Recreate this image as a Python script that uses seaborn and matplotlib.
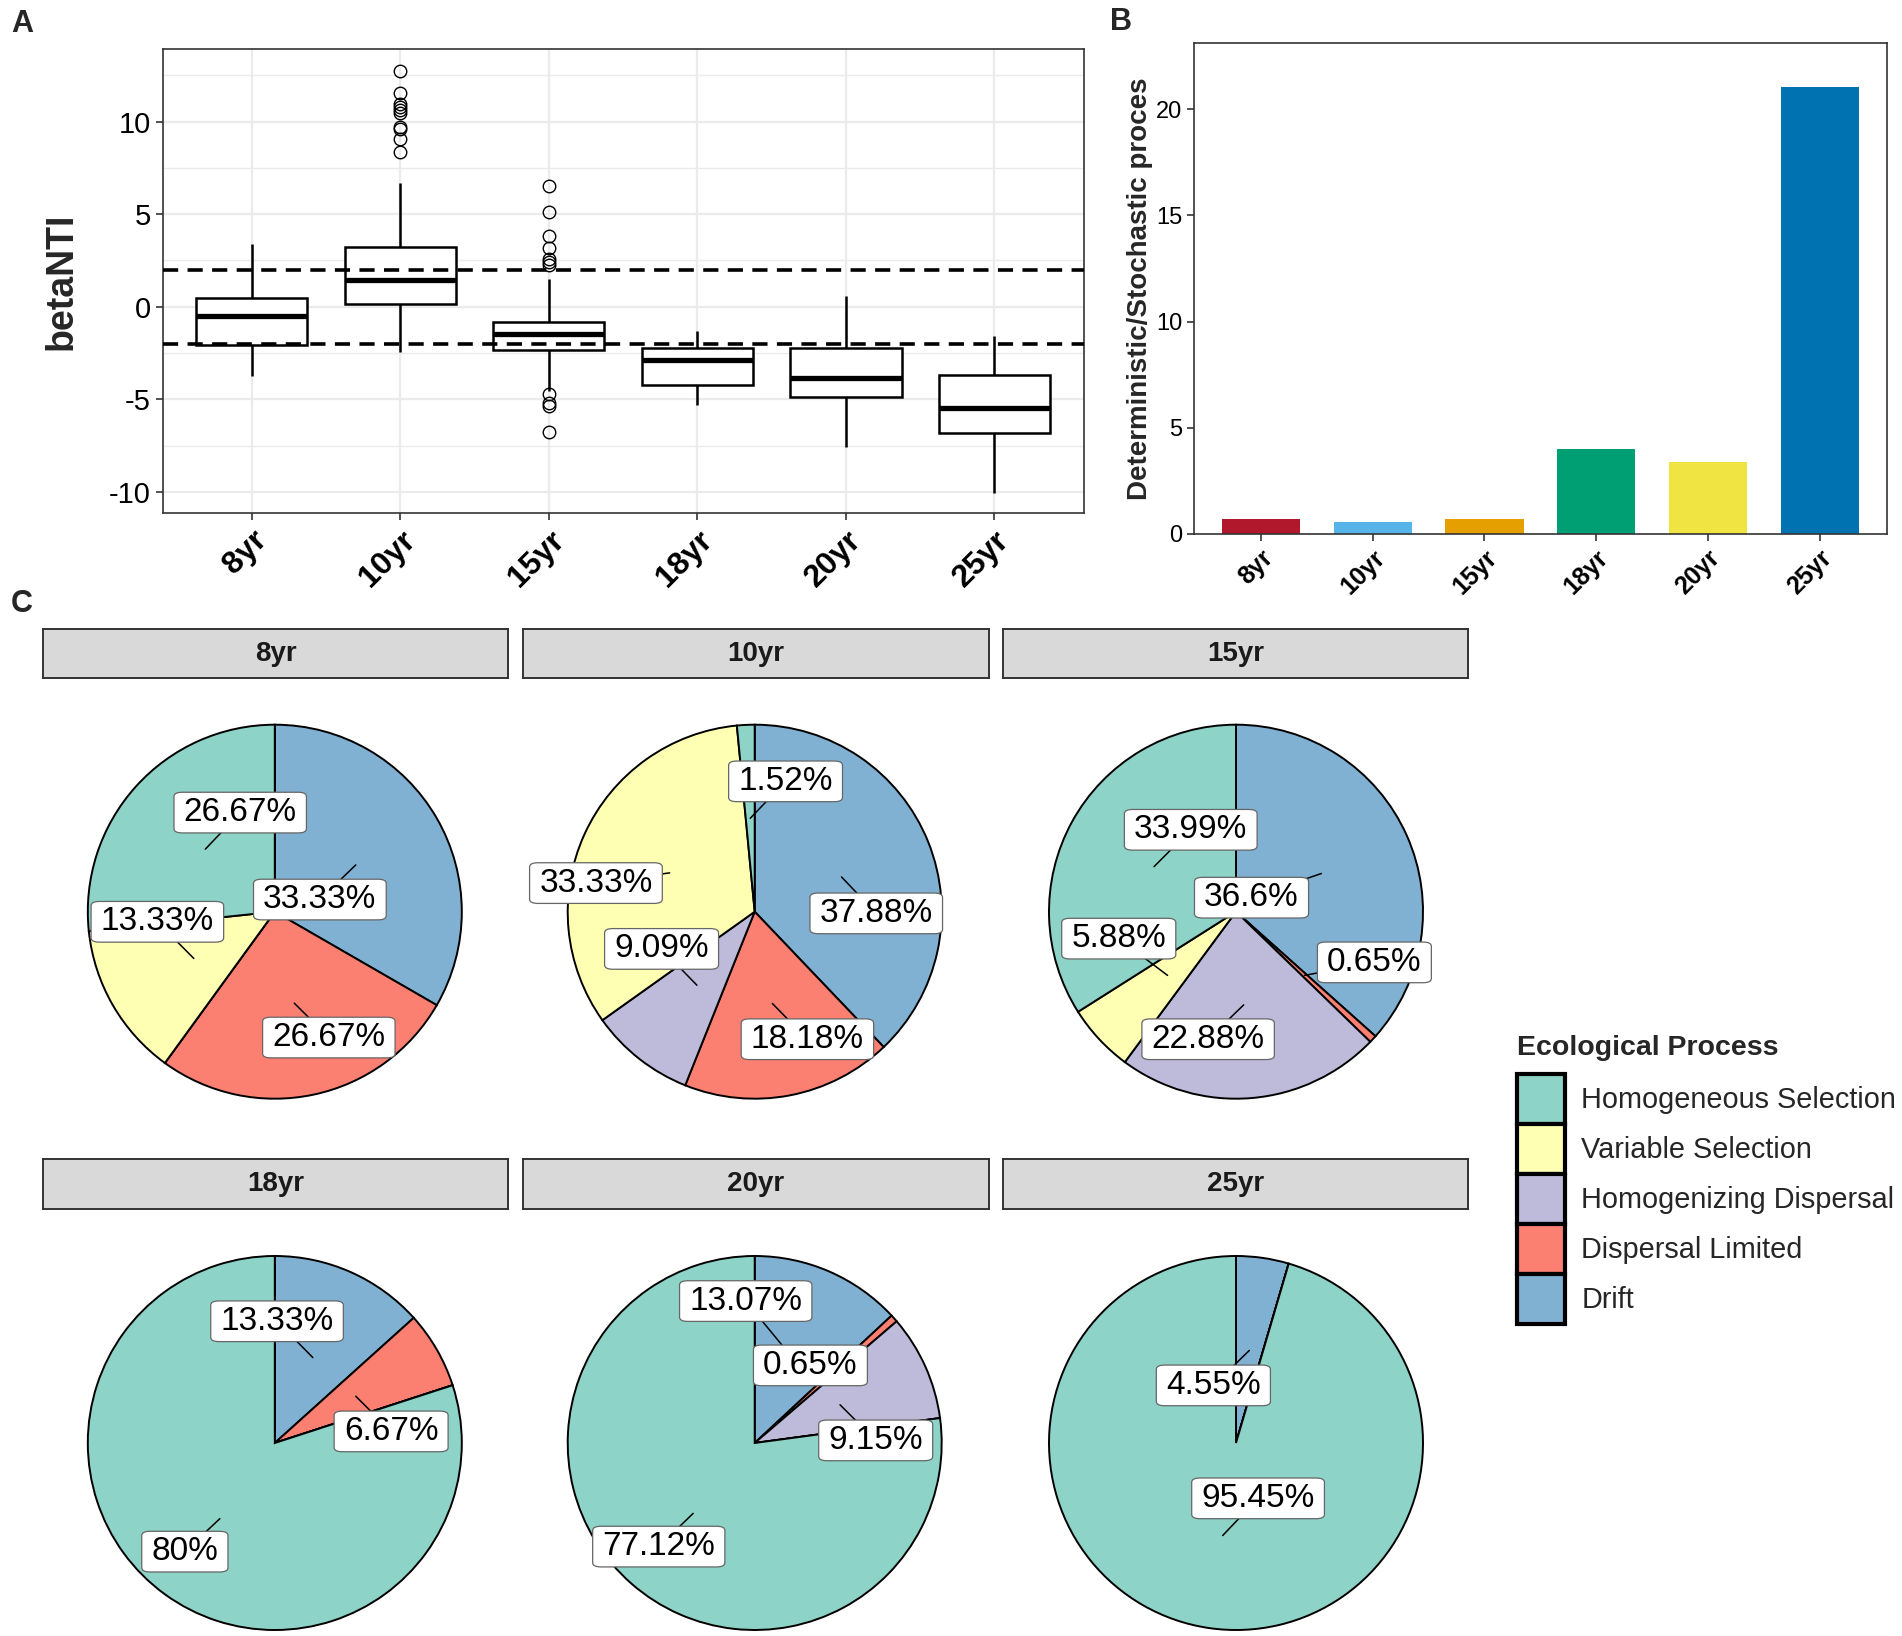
import numpy as np
import pandas as pd
import matplotlib
matplotlib.use("Agg")
import matplotlib.pyplot as plt
from matplotlib.patches import Patch
import seaborn as sns

# ---------------- data ----------------
years = ["8yr", "10yr", "15yr", "18yr", "20yr", "25yr"]

# Panel A: betaNTI box summaries
box_q1 = [-2.05, 0.13, -2.36, -4.23, -4.88, -6.83]
box_median = [-0.50, 1.44, -1.47, -2.90, -3.87, -5.46]
box_q3 = [0.46, 3.25, -0.81, -2.25, -2.22, -3.69]
whisker_low = [-3.72, -2.45, -4.55, -5.30, -7.60, -10.07]
whisker_high = [3.38, 6.70, 1.47, -1.33, 0.56, -1.57]
outliers_high = [[], [12.73, 11.56, 10.94, 10.76, 10.61, 10.47, 9.72, 9.62, 9.03, 8.36],
                 [6.53, 5.13, 3.81, 3.15, 2.55, 2.39, 2.25], [], [], []]
outliers_low = [[], [], [-4.73, -5.21, -5.36, -6.74], [], [], []]
threshold_lines = [2, -2]

# Panel B: deterministic / stochastic ratio
ratio_vals = [0.68, 0.54, 0.68, 4.00, 3.37, 21.03]
bar_colors = ["#B2182B", "#56B4E9", "#E69F00", "#009E73", "#F0E442", "#0072B2"]

# Panel C: ecological process percentages
processes = ["Homogeneous Selection", "Variable Selection", "Homogenizing Dispersal",
             "Dispersal Limited", "Drift"]
process_colors = ["#8DD3C7", "#FFFFB3", "#BEBADA", "#FB8072", "#80B1D3"]
pct_8yr = [26.67, 13.33, 0, 26.67, 33.33]
pct_10yr = [1.52, 33.33, 9.09, 18.18, 37.88]
pct_15yr = [33.99, 5.88, 22.88, 0.65, 36.6]
pct_18yr = [80, 0, 0, 6.67, 13.33]
pct_20yr = [77.12, 0, 9.15, 0.65, 13.07]
pct_25yr = [95.45, 0, 0, 0, 4.55]
pct_all = [pct_8yr, pct_10yr, pct_15yr, pct_18yr, pct_20yr, pct_25yr]

# repelled label placement (layout, in pie-radius units relative to pie centre)
label_layout = {
    "8yr": [(-0.185, 0.530), (-0.628, -0.054), None, (0.289, -0.673), (0.241, 0.065)],
    "10yr": [(0.165, 0.697), (-0.849, 0.153), (-0.498, -0.199), (0.282, -0.682), (0.650, -0.009)],
    "15yr": [(-0.242, 0.438), (-0.627, -0.144), (-0.149, -0.682), (0.740, -0.271), (0.083, 0.075)],
    "18yr": [(-0.481, -0.581), None, None, (0.622, 0.062), (0.012, 0.651)],
    "20yr": [(-0.513, -0.554), None, (0.647, 0.014), (0.298, 0.415), (-0.048, 0.759)],
    "25yr": [(0.118, -0.296), None, None, None, (-0.121, 0.308)],
}

# ---------------- style ----------------
sns.set_theme(style="ticks")
plt.rcParams["font.family"] = ["Liberation Sans", "DejaVu Sans"]
plt.rcParams["axes.unicode_minus"] = False

W, H = 1902, 1636
fig = plt.figure(figsize=(W / 100, H / 100), dpi=100)
fig.patch.set_facecolor("white")


def px_axes(x0, y0, x1, y1):
    return fig.add_axes([x0 / W, 1 - y1 / H, (x1 - x0) / W, (y1 - y0) / H])


def box_sample(lo, q1, med, q3, hi, out_lo, out_hi):
    """Values whose quartiles / whiskers / outliers equal the read summary."""
    below = sorted(out_lo) + [lo]
    above = [hi] + sorted(out_hi)
    k = max(len(below), len(above))
    below = below + [q1] * (k - len(below))
    above = [q3] * (k - len(above)) + above
    return below + [q1] * k + [med] * k + [q3] + above


rows = []
for i, yr in enumerate(years):
    vals = box_sample(whisker_low[i], box_q1[i], box_median[i], box_q3[i],
                      whisker_high[i], outliers_low[i], outliers_high[i])
    rows += [(yr, v) for v in vals]
df_box = pd.DataFrame(rows, columns=["year", "betaNTI"])

# ---------------- Panel A ----------------
axA = px_axes(162.6, 49.3, 1083.5, 513.2)
sns.boxplot(data=df_box, x="year", y="betaNTI", order=years, ax=axA, width=0.75,
            color="white", saturation=1, linecolor="black", linewidth=1.8,
            fliersize=9,
            flierprops=dict(marker="o", markerfacecolor="none",
                            markeredgecolor="black", markeredgewidth=1.0),
            medianprops=dict(linewidth=3.8, color="black"),
            capprops=dict(visible=False),
            boxprops=dict(facecolor="white", edgecolor="black"))
for yv in threshold_lines:
    axA.axhline(yv, color="black", lw=2.6, ls=(0, (4.2, 2.6)), zorder=10)
axA.set_xlim(-0.6, 5.6)
axA.set_ylim(-11.15, 13.9)
axA.set_yticks([-10, -5, 0, 5, 10])
axA.set_yticks([-7.5, -2.5, 2.5, 7.5, 12.5], minor=True)
axA.set_axisbelow(True)
axA.grid(which="major", color="#EBEBEB", lw=1.6)
axA.grid(which="minor", axis="y", color="#EBEBEB", lw=1.0)
axA.tick_params(which="minor", length=0)
axA.tick_params(which="major", length=5, width=1.2, color="#333333",
                labelsize=21, labelcolor="black", direction="out")
for s in axA.spines.values():
    s.set_visible(True)
    s.set_color("#333333")
    s.set_linewidth(1.2)
axA.set_xlabel("")
axA.set_ylabel("betaNTI", fontsize=27, fontweight="bold")
axA.yaxis.set_label_coords(-0.09, 0.5)
for lab in axA.get_xticklabels():
    lab.set_rotation(45)
    lab.set_ha("right")
    lab.set_va("top")
    lab.set_rotation_mode("anchor")
    lab.set_fontweight("bold")
    lab.set_fontsize(23)

# ---------------- Panel B ----------------
axB = px_axes(1194, 42.5, 1886.7, 533.9)
sns.barplot(x=years, y=ratio_vals, hue=years, palette=bar_colors, order=years,
            hue_order=years, width=0.7, saturation=1, legend=False,
            errorbar=None, linewidth=0, ax=axB)
axB.set_xlim(-0.6, 5.6)
axB.set_ylim(0, 23.14)
axB.set_yticks([0, 5, 10, 15, 20])
axB.grid(False)
axB.tick_params(length=5, width=1.2, color="#333333", labelsize=17,
                labelcolor="black", direction="out")
for s in axB.spines.values():
    s.set_visible(True)
    s.set_color("#333333")
    s.set_linewidth(1.2)
axB.set_xlabel("")
axB.set_ylabel("Deterministic/Stochastic proces", fontsize=20, fontweight="bold")
axB.yaxis.set_label_coords(-0.059, 0.498)
for lab in axB.get_xticklabels():
    lab.set_rotation(45)
    lab.set_ha("right")
    lab.set_va("top")
    lab.set_rotation_mode("anchor")
    lab.set_fontweight("bold")
    lab.set_fontsize(18)

# ---------------- Panel C ----------------
R = 187.0
col_x = [274.8, 754.7, 1236.0]
row_y = [911.7, 1443.0]
strip_x = [42.7, 523.0, 1002.7]
strip_w = 465.6
strip_y = [(629.5, 678.3), (1159.3, 1209.3)]
half = 1.3

for i, yr in enumerate(years):
    r, c = divmod(i, 3)
    # strip
    sx = strip_x[c]
    sy0, sy1 = strip_y[r]
    axs = px_axes(sx, sy0, sx + strip_w, sy1)
    axs.set_facecolor("#D9D9D9")
    axs.set_xticks([])
    axs.set_yticks([])
    for s in axs.spines.values():
        s.set_visible(True)
        s.set_color("#333333")
        s.set_linewidth(1.4)
    axs.text(0.5, 0.5, yr, ha="center", va="center", fontsize=20,
             fontweight="bold", color="#1A1A1A", transform=axs.transAxes)

    # pie
    cx, cy = col_x[c], row_y[r]
    hp = half * R
    ax = px_axes(cx - hp, cy - hp, cx + hp, cy + hp)
    vals = pct_all[i]
    order = list(range(len(processes)))[::-1]  # clockwise from top: Drift ... HS
    ax.pie([vals[j] for j in order], colors=[process_colors[j] for j in order],
           startangle=90, counterclock=False, radius=1.0,
           wedgeprops=dict(edgecolor="black", linewidth=1.4))
    ax.set_xlim(-half, half)
    ax.set_ylim(-half, half)
    ax.set_aspect("equal")
    ax.axis("off")
    # labels
    total = float(sum(vals))
    cum = 0.0
    for j in order:
        v = vals[j]
        mid = (cum + v / 2.0) / total * 2 * np.pi
        cum += v
        pos = label_layout[yr][j]
        if v <= 0 or pos is None:
            continue
        px, py = 0.5 * np.sin(mid), 0.5 * np.cos(mid)
        lx, ly = pos
        ax.plot([px, lx], [py, ly], color="black", lw=1.1, zorder=3,
                clip_on=False)
        ax.text(lx, ly, f"{v:g}%", ha="center", va="center", fontsize=24,
                color="black", zorder=4, clip_on=False,
                bbox=dict(boxstyle="round,pad=0.29,rounding_size=0.25",
                          mutation_aspect=0.5,
                          fc="white", ec="#666666", lw=0.9))

# legend
handles = [Patch(facecolor=col, edgecolor="black", linewidth=3.0)
           for col in process_colors]
leg = fig.legend(handles, processes, loc="upper left",
                 bbox_to_anchor=(1517 / W, 1 - 1035 / H), frameon=False,
                 title="Ecological Process",
                 title_fontproperties={"weight": "bold", "size": 20.5},
                 fontsize=20.8, handlelength=1.65, handleheight=2.29,
                 labelspacing=0.0, handletextpad=0.58, borderpad=0,
                 borderaxespad=0, alignment="left")
leg._legend_box.sep = 9

# panel tags
fig.text(11 / W, 1 - 9 / H, "A", fontsize=22, fontweight="bold", ha="left", va="top")
fig.text(1110 / W, 1 - 7 / H, "B", fontsize=22, fontweight="bold", ha="left", va="top")
fig.text(11 / W, 1 - 589 / H, "C", fontsize=22, fontweight="bold", ha="left", va="top")

fig.savefig("out.png", dpi=100, facecolor="white")
